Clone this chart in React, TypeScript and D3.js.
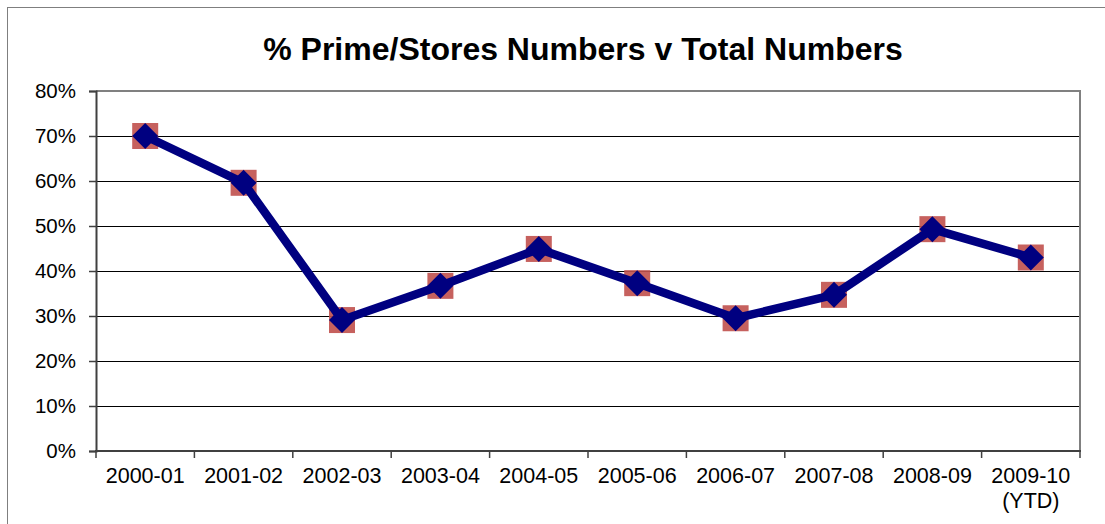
import React, { useEffect, useRef } from 'react';
import * as d3 from 'd3';

const categories = [
  '2000-01', '2001-02', '2002-03', '2003-04', '2004-05',
  '2005-06', '2006-07', '2007-08', '2008-09', '2009-10\n(YTD)',
];
const shareValues = [0.70, 0.596, 0.291, 0.367, 0.449, 0.373, 0.295, 0.347, 0.493, 0.43];
const yTicks = [0, 0.1, 0.2, 0.3, 0.4, 0.5, 0.6, 0.7, 0.8];
const title = '% Prime/Stores Numbers v Total Numbers';

export default function App() {
  const svgRef = useRef<SVGSVGElement>(null);
  const width = 1105;
  const height = 524;

  useEffect(() => {
    if (!svgRef.current) return;
    const svg = d3.select(svgRef.current);
    svg.selectAll('*').remove();

    const font = '"Liberation Sans", Arial, sans-serif';
    const plot = { left: 96, top: 91, right: 1080, bottom: 451 };

    // outer chart frame
    svg.append('rect')
      .attr('x', 7.5).attr('y', 7.5)
      .attr('width', width + 10).attr('height', height + 10)
      .attr('fill', '#fff')
      .attr('stroke', '#7f7f7f')
      .attr('stroke-width', 1);

    svg.append('text')
      .attr('x', 583)
      .attr('y', 60)
      .attr('text-anchor', 'middle')
      .attr('font-family', font)
      .attr('font-weight', 'bold')
      .attr('font-size', 32)
      .attr('fill', '#000')
      .text(title);

    const x = d3.scaleBand<string>()
      .domain(categories)
      .range([plot.left, plot.right]);

    const y = d3.scaleLinear()
      .domain([0, 0.8])
      .range([plot.bottom, plot.top]);

    // gridlines
    svg.append('g')
      .selectAll('line')
      .data(yTicks.filter(t => t > 0 && t < 0.8))
      .enter()
      .append('line')
      .attr('x1', plot.left).attr('x2', plot.right)
      .attr('y1', d => Math.round(y(d)) + 0.5)
      .attr('y2', d => Math.round(y(d)) + 0.5)
      .attr('stroke', '#000')
      .attr('stroke-width', 1);

    // top & right border of plot area
    svg.append('path')
      .attr('d', `M${plot.left},${plot.top} H${plot.right} V${plot.bottom}`)
      .attr('fill', 'none')
      .attr('stroke', '#808080')
      .attr('stroke-width', 2);

    // y axis
    const yAxis = d3.axisLeft(y)
      .tickValues(yTicks)
      .tickSize(7)
      .tickPadding(13)
      .tickFormat(d => `${Math.round(+d * 100)}%`);

    const yg = svg.append('g')
      .attr('transform', `translate(${plot.left},0)`)
      .call(yAxis);
    yg.select('.domain').attr('stroke', '#404040').attr('stroke-width', 2);
    yg.selectAll('.tick line').attr('stroke', '#404040').attr('stroke-width', 1.5);
    yg.selectAll('.tick text')
      .attr('font-family', font)
      .attr('font-size', 20.5)
      .attr('fill', '#000');

    // x axis with ticks at category boundaries
    const xg = svg.append('g')
      .attr('transform', `translate(0,${plot.bottom})`);
    xg.append('line')
      .attr('x1', plot.left - 1).attr('x2', plot.right + 1)
      .attr('stroke', '#404040').attr('stroke-width', 2);
    const bounds = categories.map(c => x(c) as number).concat([plot.right]);
    xg.selectAll('.xtick')
      .data(bounds)
      .enter()
      .append('line')
      .attr('x1', d => d).attr('x2', d => d)
      .attr('y1', 0).attr('y2', 7)
      .attr('stroke', '#404040').attr('stroke-width', 1.5);

    const labels = xg.selectAll('.xlabel')
      .data(categories)
      .enter()
      .append('text')
      .attr('x', d => (x(d) as number) + x.bandwidth() / 2)
      .attr('y', 32)
      .attr('text-anchor', 'middle')
      .attr('font-family', font)
      .attr('font-size', 21.5)
      .attr('fill', '#000');
    labels.each(function (d) {
      const parts = d.split('\n');
      const t = d3.select(this);
      parts.forEach((p, i) => {
        t.append('tspan')
          .attr('x', (x(d) as number) + x.bandwidth() / 2)
          .attr('dy', i === 0 ? 0 : 25)
          .text(p);
      });
    });

    const cx = (i: number) => (x(categories[i]) as number) + x.bandwidth() / 2;

    // square markers (behind the line)
    svg.append('g')
      .selectAll('rect')
      .data(shareValues)
      .enter()
      .append('rect')
      .attr('x', (d, i) => cx(i) - 13)
      .attr('y', d => y(d) - 13)
      .attr('width', 26)
      .attr('height', 26)
      .attr('fill', '#c0504d')
      .attr('opacity', 0.9);

    const line = d3.line<number>()
      .x((d, i) => cx(i))
      .y(d => y(d));

    svg.append('path')
      .datum(shareValues)
      .attr('fill', 'none')
      .attr('stroke', '#000080')
      .attr('stroke-width', 8.5)
      .attr('stroke-linejoin', 'round')
      .attr('d', line);

    // diamond markers
    svg.append('g')
      .selectAll('path')
      .data(shareValues)
      .enter()
      .append('path')
      .attr('transform', (d, i) => `translate(${cx(i)},${y(d)})`)
      .attr('d', 'M0,-13 L13,0 L0,13 L-13,0 Z')
      .attr('fill', '#000080');
  }, []);

  return (
    <svg
      ref={svgRef}
      width={width}
      height={height}
      style={{ position: 'absolute', left: 0, top: 0, background: '#fff' }}
    />
  );
}
